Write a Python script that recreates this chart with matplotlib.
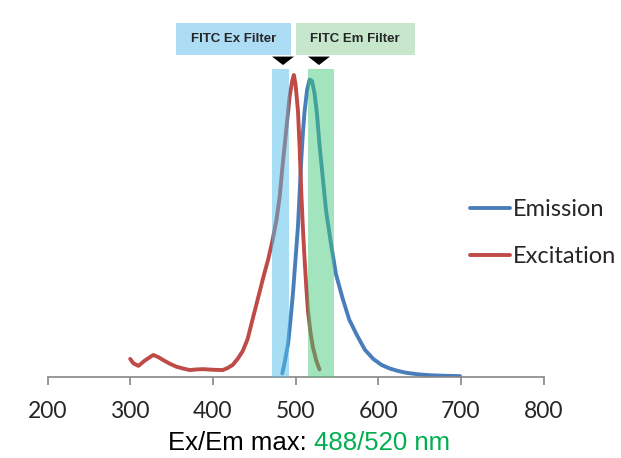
import matplotlib.pyplot as plt
from matplotlib.patches import Rectangle, Polygon

# spektra (nm, normalisert intensitet), lest av bildet
ex_nm = [300, 304, 310, 318, 328, 334, 340, 348, 356, 364, 372, 380, 388, 400, 412, 418, 424, 430,
         436, 442, 448, 455, 462, 467, 472, 477, 481, 484, 487, 490, 493, 496, 498, 500, 503, 505,
         507, 509, 511, 513, 515, 518, 521, 525, 529]
ex_val = [0.06, 0.045, 0.037, 0.055, 0.073, 0.066, 0.056, 0.044, 0.034, 0.028, 0.023, 0.025, 0.026,
          0.024, 0.023, 0.03, 0.04, 0.06, 0.085, 0.125, 0.19, 0.265, 0.34, 0.39, 0.45, 0.52, 0.60,
          0.69, 0.77, 0.85, 0.93, 0.98, 1.0, 0.97, 0.88, 0.76, 0.61, 0.49, 0.39, 0.30, 0.22, 0.15,
          0.10, 0.055, 0.025]

em_nm = [484, 487, 491, 494, 497, 500, 503, 505, 507, 509, 511, 514, 517, 520, 523, 526, 529, 533,
         537, 543, 549, 557, 565, 574, 584, 594, 604, 614, 624, 634, 648, 662, 680, 699]
em_val = [0.012, 0.05, 0.11, 0.19, 0.28, 0.39, 0.50, 0.61, 0.72, 0.81, 0.88, 0.95, 0.985, 0.98,
          0.94, 0.87, 0.77, 0.66, 0.55, 0.44, 0.34, 0.26, 0.19, 0.14, 0.09, 0.06, 0.04, 0.028,
          0.02, 0.014, 0.009, 0.006, 0.004, 0.003]

# filterområder (nm)
ex_filter = [471, 492]
em_filter = [515, 546]
filter_labels = ['FITC Ex Filter', 'FITC Em Filter']

ticks = [200, 300, 400, 500, 600, 700, 800]

fig = plt.figure(figsize=(6.21, 4.58), dpi=100)
ax = fig.add_axes([47.5 / 621, 81 / 458, 496 / 621, 332.2 / 458])

blue = '#4A7EBB'
red = '#BE4B48'

ax.plot(em_nm, em_val, color=blue, lw=2.8, solid_capstyle='round', label='Emission', zorder=2)
ax.plot(ex_nm, ex_val, color=red, lw=2.8, solid_capstyle='round', label='Excitation', zorder=2)

# filterbånd oppå kurvene
ax.axvspan(ex_filter[0], ex_filter[1], ymin=0, ymax=1.02 / 1.1, color='#50BEEB', alpha=0.5,
           lw=0, zorder=3)
ax.axvspan(em_filter[0], em_filter[1], ymin=0, ymax=1.02 / 1.1, color='#3CC878', alpha=0.48,
           lw=0, zorder=3)

# bokser med tekst og trekanter over båndene
boxes = [(355.3, 495.0, '#ADDCF5'), (500.2, 644.0, '#C6E7CC')]
for (x0, x1, c), lab in zip(boxes, filter_labels):
    ax.add_patch(Rectangle((x0, 1.066), x1 - x0, 0.105, color=c, lw=0, clip_on=False))
    ax.text((x0 + x1) / 2, 1.118, lab, ha='center', va='center', fontsize=9.5,
            fontweight='bold', family='Liberation Sans', color='#262626', clip_on=False)

for cx in [484.9, 528.4]:
    ax.add_patch(Polygon([[cx - 13.3, 1.061], [cx + 13.3, 1.061], [cx, 1.033]], closed=True,
                         color='black', lw=0, clip_on=False))

ax.set_xlim(200, 800)
ax.set_ylim(0, 1.1)
ax.set_xticks(ticks)
ax.set_yticks([])
for s in ['top', 'right', 'left']:
    ax.spines[s].set_visible(False)
ax.spines['bottom'].set_color('#868686')
ax.spines['bottom'].set_linewidth(1.2)
ax.tick_params(axis='x', direction='out', length=6, width=1.2, color='#868686',
               labelsize=16.5, labelcolor='#262626', pad=11)
for t in ax.get_xticklabels():
    t.set_family('Lato')

xc = 314 / 621
fig.text(xc, 1 - 443.5 / 458, 'Ex/Em max: ', ha='right', va='center',
         fontsize=18.5, family='Liberation Sans', color='black')
fig.text(xc, 1 - 443.5 / 458, '488/520 nm', ha='left', va='center',
         fontsize=18.5, family='Liberation Sans', color='#00B050')

leg = ax.legend(loc='upper left', bbox_to_anchor=(470 / 621, 1 - 199 / 458),
                bbox_transform=fig.transFigure, frameon=False, borderpad=0, borderaxespad=0,
                handlelength=1.7, handletextpad=0.1, labelspacing=1.12,
                prop={'family': 'Lato', 'size': 17})
for t in leg.get_texts():
    t.set_color('#262626')

fig.savefig('out.png', dpi=100)
